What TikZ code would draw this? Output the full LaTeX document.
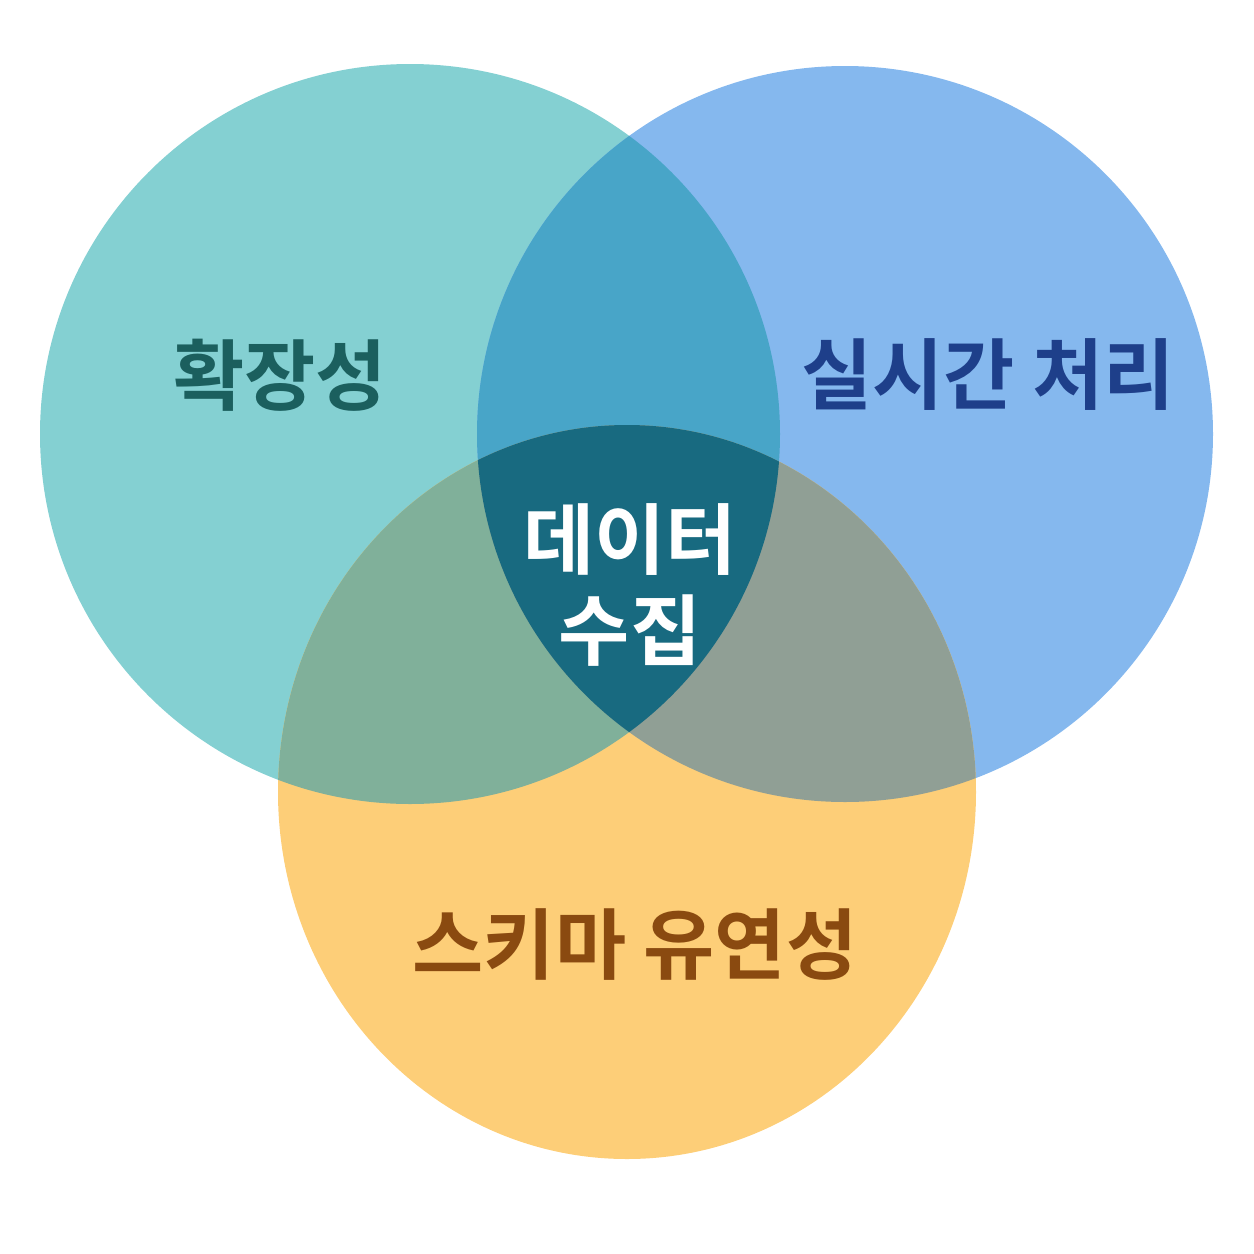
\documentclass[tikz,border=0pt]{standalone}
\usepackage{fontspec}
\newfontfamily\kr{Noto Sans CJK KR}[BoldFont={* Bold}]
\definecolor{tealc}{HTML}{84D0D2}
\definecolor{bluec}{HTML}{85B8EE}
\definecolor{orangec}{HTML}{FDCE78}
\definecolor{tbc}{HTML}{48A5C8}
\definecolor{toc}{HTML}{80B09A}
\definecolor{boc}{HTML}{909F95}
\definecolor{midc}{HTML}{186A80}
\definecolor{tealtxt}{HTML}{1B5F5E}
\definecolor{bluetxt}{HTML}{1E3F8A}
\definecolor{orangetxt}{HTML}{8A4A10}
\begin{document}
\begin{tikzpicture}[x=0.01cm,y=-0.01cm,
                    set label/.style={font=\kr\bfseries\fontsize{22}{26}\selectfont}]
  \useasboundingbox (0,0) rectangle (1254,1254);
  \def\teal{(410,434) circle [radius=370]}
  \def\blue{(845,434) circle [radius=368]}
  \def\orange{(627,792) ellipse [x radius=349, y radius=367]}

  \fill[tealc] \teal;
  \fill[bluec] \blue;
  \fill[orangec] \orange;

  \begin{scope}
    \clip \teal;
    \fill[tbc] \blue;
    \fill[toc] \orange;
  \end{scope}
  \begin{scope}
    \clip \blue;
    \fill[boc] \orange;
  \end{scope}
  \begin{scope}
    \clip \teal;
    \clip \blue;
    \fill[midc] \orange;
  \end{scope}

  \node[set label,text=tealtxt] (scal) at (280,375) {확장성};
  \node[set label,text=bluetxt] (real) at (988,375) {실시간 처리};
  \node[set label,text=orangetxt] (schema) at (635,945) {스키마 유연성};
  \node[set label,text=white,align=center] (core) at (630,585)
    {\fontsize{22}{29}\selectfont 데이터\\수집};
\end{tikzpicture}
\end{document}
